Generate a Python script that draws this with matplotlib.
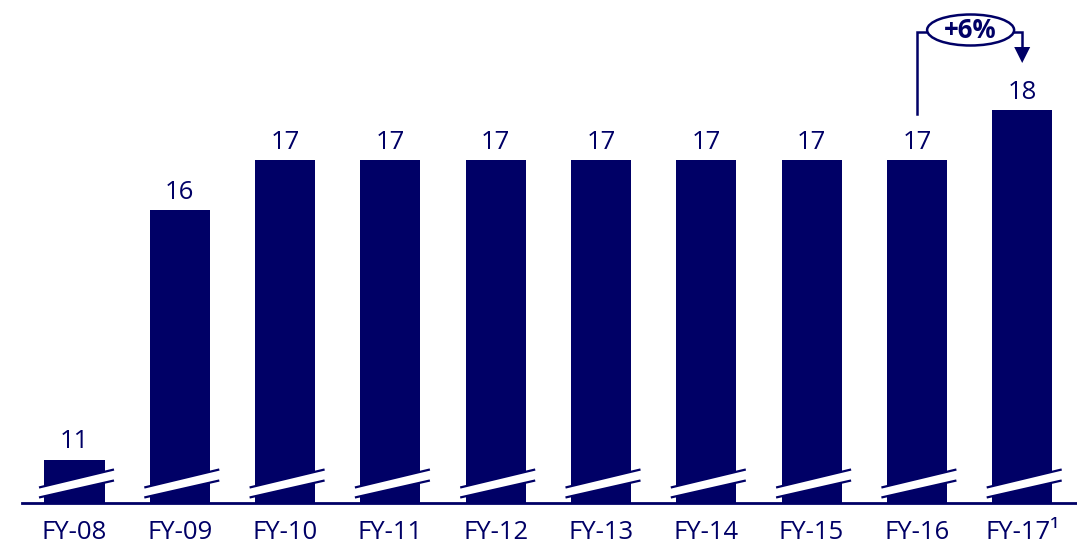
import matplotlib
matplotlib.use("Agg")
import matplotlib.pyplot as plt
from matplotlib.patches import Polygon, Ellipse
from matplotlib.lines import Line2D

categories = ["FY-08", "FY-09", "FY-10", "FY-11", "FY-12", "FY-13", "FY-14", "FY-15", "FY-16", "FY-17¹"]
values = [11, 16, 17, 17, 17, 17, 17, 17, 17, 18]
growth_label = "+6%"

NAVY = "#000066"
plt.rcParams['font.family'] = ['Open Sans', 'DejaVu Sans']

W, H = 1077, 549
fig = plt.figure(figsize=(W / 100, H / 100), dpi=100)
# axes: left 22px, right 1077px, bottom at 503px, top at 0px
ax = fig.add_axes([22 / W, (H - 503) / H, (1077 - 22) / W, 503 / H])

spacing = 105.3
x0 = 74.5
xs = list(range(len(categories)))
ax.set_xlim(-(x0 - 22) / spacing, (1077 - x0) / spacing)
ppu = 50.0  # pixels per unit
ybot = 10.13
ax.set_ylim(ybot, ybot + 503 / ppu)

ax.bar(xs, values, width=0.57, color=NAVY, zorder=2)

for s in ["top", "right", "left"]:
    ax.spines[s].set_visible(False)
ax.spines["bottom"].set_color(NAVY)
ax.spines["bottom"].set_linewidth(2.0)
ax.set_yticks([])
ax.set_xticks(xs)
ax.set_xticklabels(categories, fontsize=18.5, color=NAVY)
ax.tick_params(axis="x", length=0, pad=12)

# value labels
for x, v in zip(xs, values):
    ax.text(x, v + 11 / ppu, f"{v}", ha="center", va="baseline",
            fontsize=18.5, color=NAVY, zorder=3)

# break marks
def px(p):
    return ybot + p / ppu

for x in xs:
    l = x - 35.5 / spacing
    r = x + 39.5 / spacing
    lo_l, lo_r = px(5.5), px(22.5)
    up_l, up_r = px(15.5), px(33.5)
    ax.add_patch(Polygon([[l, lo_l], [r, lo_r], [r, up_r], [l, up_l]],
                         closed=True, facecolor="white", edgecolor="none",
                         zorder=4, clip_on=False))
    ax.add_line(Line2D([l, r], [lo_l, lo_r], color=NAVY, lw=1.6, zorder=5,
                       solid_capstyle="butt"))
    ax.add_line(Line2D([l, r], [up_l, up_r], color=NAVY, lw=1.6, zorder=5,
                       solid_capstyle="butt"))

# growth annotation FY-16 -> FY-17
i0, i1 = 8, 9
y_start = values[i0] + 46 / ppu
y_top = px(503 - 32)
y_tip = px(503 - 63)
ex = (i0 + i1) / 2 + 0.01
ew = 87 / spacing
ax.plot([i0, i0, ex - ew / 2], [y_start, y_top, y_top], color=NAVY, lw=1.8,
        clip_on=False, zorder=3, solid_joinstyle="miter")
ax.plot([ex + ew / 2, i1, i1], [y_top, y_top, px(503 - 48)], color=NAVY, lw=1.8,
        clip_on=False, zorder=3, solid_joinstyle="miter")
hw = 8 / spacing
ax.add_patch(Polygon([[i1 - hw, px(503 - 47)], [i1 + hw, px(503 - 47)], [i1, y_tip]],
                     closed=True, facecolor=NAVY, edgecolor="none", clip_on=False, zorder=3))
ax.add_patch(Ellipse((ex, y_top + 2 / ppu), ew, 31 / ppu, facecolor="white",
                     edgecolor=NAVY, lw=1.8, clip_on=False, zorder=3))
ax.text(ex, y_top + 2 / ppu, growth_label, ha="center", va="center",
        fontsize=18.5, fontweight="bold", color=NAVY, zorder=4)

fig.savefig("out.png", dpi=100)
